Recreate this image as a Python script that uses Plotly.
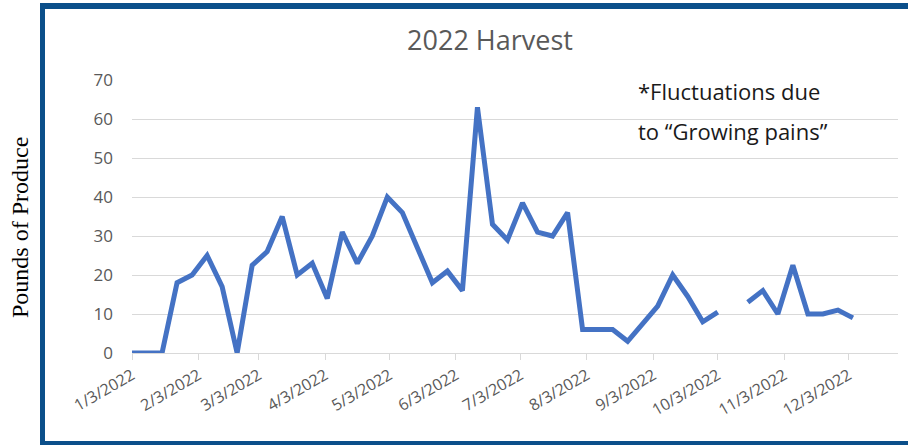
import plotly.graph_objects as go

# ---- data ----
dates = ["2022-01-03", "2022-01-10", "2022-01-17", "2022-01-24", "2022-01-31",
         "2022-02-07", "2022-02-14", "2022-02-21", "2022-02-28", "2022-03-07",
         "2022-03-14", "2022-03-21", "2022-03-28", "2022-04-04", "2022-04-11",
         "2022-04-18", "2022-04-25", "2022-05-02", "2022-05-09", "2022-05-16",
         "2022-05-23", "2022-05-30", "2022-06-06", "2022-06-13", "2022-06-20",
         "2022-06-27", "2022-07-04", "2022-07-11", "2022-07-18", "2022-07-25",
         "2022-08-01", "2022-08-08", "2022-08-15", "2022-08-22", "2022-08-29",
         "2022-09-05", "2022-09-12", "2022-09-19", "2022-09-26", "2022-10-03",
         "2022-10-10", "2022-10-17", "2022-10-24", "2022-10-31", "2022-11-07",
         "2022-11-14", "2022-11-21", "2022-11-28", "2022-12-05"]
pounds = [0, 0, 0, 18, 20,
          25, 17, 0, 22.5, 26,
          35, 20, 23, 14, 31,
          23, 30, 40, 36, 27,
          18, 21, 16, 63, 33,
          29, 38.5, 31, 30, 36,
          6, 6, 6, 3, 7.5,
          12, 20, 14.5, 8, 10.5,
          None, 13, 16, 10, 22.5,
          10, 10, 11, 9]

title_text = "2022 Harvest"
y_title = "Pounds of Produce"
note_lines = ["*Fluctuations due", "to \u201cGrowing pains\u201d"]

# ---- layout geometry (pixels) ----
W, H = 908, 445
PL, PR, PT, PB = 132, 898, 80, 353  # plot area edges


def px_x(x):
    return (x - PL) / (PR - PL)


def px_y(y):
    return (PB - y) / (PB - PT)


fig = go.Figure()
fig.add_trace(go.Scatter(
    x=dates, y=pounds, mode="lines",
    line=dict(color="#4472C4", width=5),
    connectgaps=False, hoverinfo="x+y", showlegend=False,
))

frame_col = "#0B4F8A"
shapes = [
    dict(type="rect", xref="paper", yref="paper", x0=px_x(40), x1=px_x(912),
         y0=px_y(9), y1=px_y(3), fillcolor=frame_col, line_width=0, layer="above"),
    dict(type="rect", xref="paper", yref="paper", x0=px_x(40), x1=px_x(45),
         y0=px_y(449), y1=px_y(3), fillcolor=frame_col, line_width=0, layer="above"),
    dict(type="rect", xref="paper", yref="paper", x0=px_x(40), x1=px_x(912),
         y0=px_y(449), y1=px_y(441), fillcolor=frame_col, line_width=0, layer="above"),
]

annotations = [
    dict(text=y_title, xref="paper", yref="paper", x=px_x(20), y=px_y(228),
         textangle=-90, showarrow=False, xanchor="center", yanchor="middle",
         font=dict(family="Liberation Serif", size=24, color="#000000")),
    dict(text=note_lines[0], xref="paper", yref="paper", x=px_x(636), y=px_y(91),
         showarrow=False, xanchor="left", yanchor="middle",
         font=dict(family="Open Sans", size=22, color="#1a1a1a")),
    dict(text=note_lines[1], xref="paper", yref="paper", x=px_x(636), y=px_y(131),
         showarrow=False, xanchor="left", yanchor="middle",
         font=dict(family="Open Sans", size=22, color="#1a1a1a")),
]

fig.update_layout(
    width=W, height=H,
    margin=dict(l=PL, r=W - PR, t=PT, b=H - PB, pad=0),
    paper_bgcolor="white", plot_bgcolor="white",
    title=dict(text=title_text, x=490 / W, xref="container", xanchor="center",
               y=1 - 41 / H, yref="container", yanchor="middle",
               font=dict(family="Open Sans", size=27, color="#595959")),
    shapes=shapes, annotations=annotations,
    showlegend=False,
)

fig.update_xaxes(
    type="date", range=["2022-01-03", "2022-12-26"],
    tick0="2022-01-03", dtick="M1", tickformat="%-m/%-d/%Y",
    tickangle=-30, ticks="outside", ticklen=6, tickcolor="#D9D9D9",
    tickfont=dict(family="Open Sans", size=16, color="#595959"),
    showgrid=False, showline=True, linecolor="#D9D9D9", linewidth=1,
    zeroline=False,
)
fig.update_yaxes(
    range=[0, 70], dtick=10, showgrid=True, gridcolor="#D9D9D9", gridwidth=1,
    zeroline=False, showline=False, ticks="",
    ticklabelstandoff=18,
    tickfont=dict(family="Open Sans", size=17, color="#595959"),
)

fig.write_html("out.html")
